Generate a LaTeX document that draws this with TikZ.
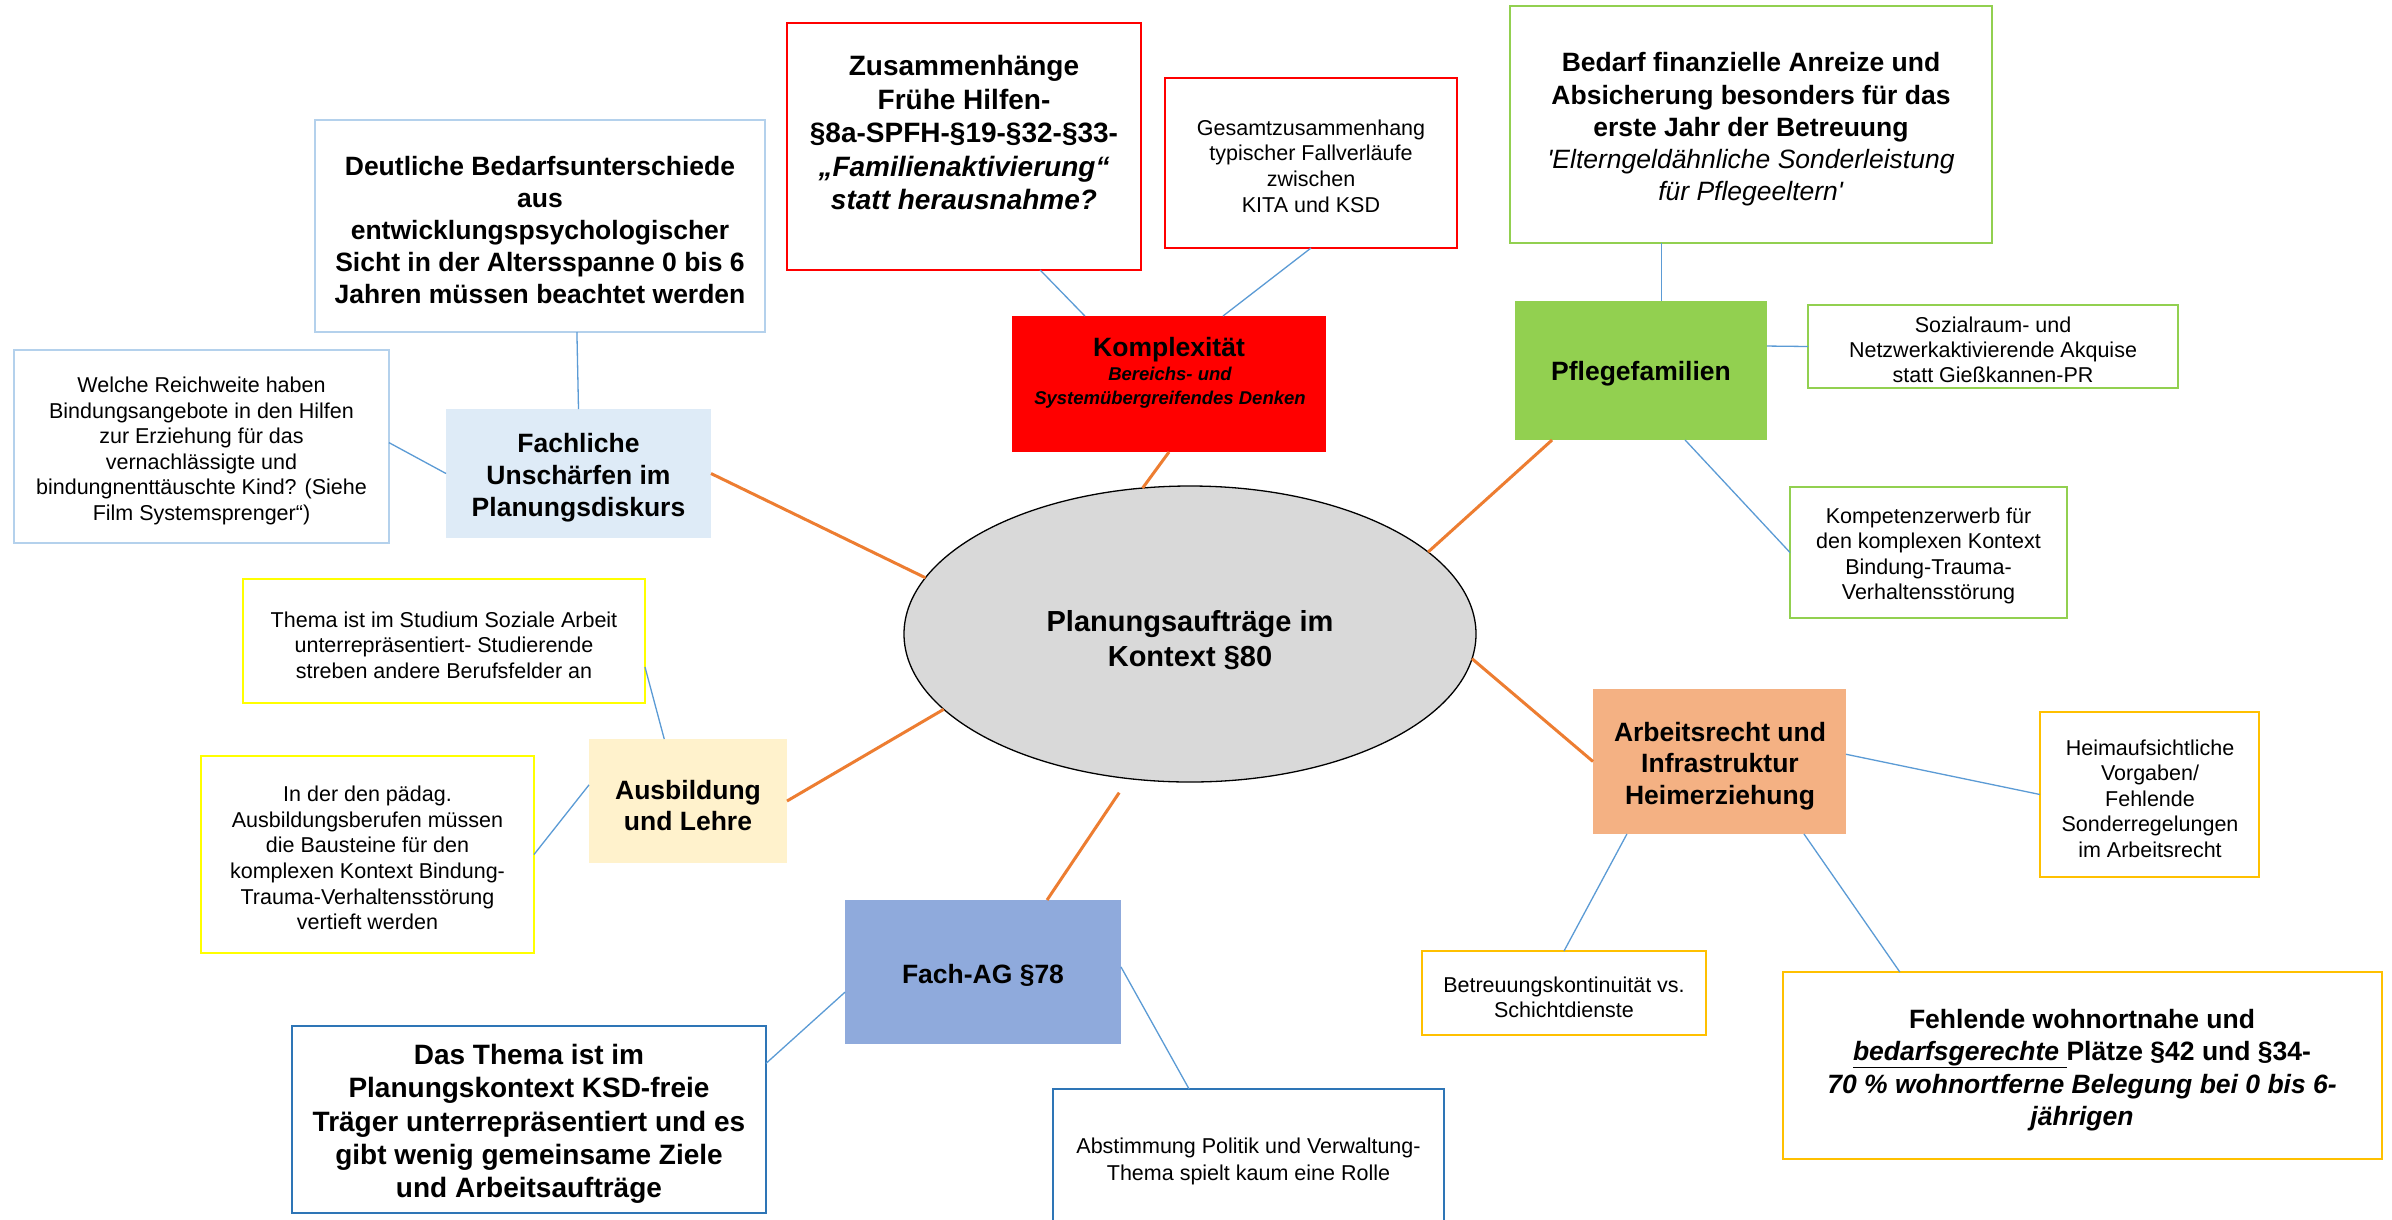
\documentclass[tikz,border=0pt]{standalone}
\usepackage{fontspec}
\setmainfont{Liberation Sans}
\usetikzlibrary{calc,fit,shapes.geometric}
\definecolor{lblue}{HTML}{B4D1EC}
\definecolor{fachfill}{HTML}{DEEBF7}
\definecolor{myred}{HTML}{FF0000}
\definecolor{mygreen}{HTML}{92D050}
\definecolor{myyellow}{HTML}{FFFF00}
\definecolor{cream}{HTML}{FFF2CC}
\definecolor{gold}{HTML}{FFC000}
\definecolor{salmon}{HTML}{F4B183}
\definecolor{fagblue}{HTML}{8FAADC}
\definecolor{dblue}{HTML}{2E75B6}
\definecolor{conblue}{HTML}{5B9BD5}
\definecolor{orng}{HTML}{ED7D31}
\definecolor{ellgray}{HTML}{D9D9D9}
\newcommand\fBig{\fontsize{26.5}{32}\selectfont\bfseries}
\newcommand\fSmall{\fontsize{21.5}{25.6}\selectfont}
\begin{document}
\begin{tikzpicture}[x=1pt,y=-1pt,
  bx/.style={rectangle, inner sep=0pt, outer sep=0pt, line width=2.5pt},
  fl/.style={rectangle, inner sep=0pt, outer sep=0pt},
  txt/.style={inner sep=0pt, outer sep=0pt, align=center, text=black, yshift=-2.5pt},
  thinc/.style={draw=conblue, line width=1.3pt},
  thickc/.style={draw=orng, line width=3pt},
]
\useasboundingbox (0,0) rectangle (2392,1219);
\fill[white] (0,0) rectangle (2392,1219);
\clip (0,0) rectangle (2392,1219);

% boxes
\node[bx, draw=lblue, fit={(315,120) (765,332)}] (deut) {};
\node[bx, draw=lblue, fit={(14,350) (389,543)}] (welche) {};
\node[fl, fill=fachfill, fit={(446,409) (711,538)}] (fach) {};
\node[bx, draw=myred, fit={(787,23) (1141,270)}] (zus) {};
\node[bx, draw=myred, fit={(1165,78) (1457,248)}] (ges) {};
\node[fl, fill=myred, fit={(1012,316) (1326,452)}] (kom) {};
\node[bx, draw=mygreen, fit={(1510,6) (1992,243)}] (bed) {};
\node[fl, fill=mygreen, fit={(1515,301) (1767,440)}] (pfl) {};
\node[bx, draw=mygreen, fit={(1808,305) (2178,388)}] (soz) {};
\node[bx, draw=mygreen, fit={(1790,487) (2067,618)}] (kmp) {};
\node[ellipse, draw=black, line width=1.3pt, fill=ellgray, inner sep=0pt, outer sep=0pt,
      minimum width=572pt, minimum height=296pt] (ell) at (1190,634) {};
\node[bx, draw=myyellow, fit={(243,579) (645,703)}] (thema) {};
\node[bx, draw=myyellow, fit={(201,756) (534,953)}] (inder) {};
\node[fl, fill=cream, fit={(589,739) (787,863)}] (ausb) {};
\node[fl, fill=salmon, fit={(1593,689) (1846,834)}] (arb) {};
\node[bx, draw=gold, fit={(2040,712) (2259,877)}] (heim) {};
\node[bx, draw=gold, fit={(1422,951) (1706,1035)}] (betr) {};
\node[bx, draw=gold, fit={(1783,972) (2382,1159)}] (fehl) {};
\node[fl, fill=fagblue, fit={(845,900) (1121,1044)}] (fag) {};
\node[bx, draw=dblue, fit={(292,1026) (766,1213)}] (dast) {};
\node[bx, draw=dblue, fit={(1053,1089) (1444,1240)}] (abst) {};

% texts
\node[txt, font=\fBig] (deut-t) at (540,227.5) {Deutliche Bedarfsunterschiede\\aus\\entwicklungspsychologischer\\Sicht in der Altersspanne 0 bis 6\\Jahren müssen beachtet werden};
\node[txt, font=\fSmall] (welche-t) at (201.5,448.5) {Welche Reichweite haben\\Bindungsangebote in den Hilfen\\zur Erziehung für das\\vernachlässigte und\\bindungnenttäuschte Kind? (Siehe\\Film Systemsprenger“)};
\node[txt, font=\fBig] (fach-t) at (578.5,475) {Fachliche\\Unschärfen im\\Planungsdiskurs};
\node[txt, font={\fontsize{28}{33.5}\selectfont\bfseries}] (zus-t) at (964,130) {Zusammenhänge\\Frühe Hilfen-\\§8a-SPFH-§19-§32-§33-\\\textit{„Familienaktivierung“}\\\textit{statt herausnahme?}};
\node[txt, font=\fSmall] (ges-t) at (1311,163.5) {Gesamtzusammenhang\\typischer Fallverläufe\\zwischen\\KITA und KSD};
\node[txt, font=\fBig] (kom-t1) at (1169,347) {Komplexität};
\node[txt, font={\fontsize{18.5}{24}\selectfont\bfseries\itshape}] (kom-t2) at (1170,385) {Bereichs- und\\Systemübergreifendes Denken};
\node[txt, font={\fontsize{26.5}{32.3}\selectfont}] (bed-t) at (1751,127) {\textbf{Bedarf finanzielle Anreize und}\\\textbf{Absicherung besonders für das}\\\textbf{erste Jahr der Betreuung}\\\textit{\textquotesingle Elterngeldähnliche Sonderleistung}\\\textit{für Pflegeeltern\textquotesingle}};
\node[txt, font=\fBig] (pfl-t) at (1641,371) {Pflegefamilien};
\node[txt, font={\fontsize{21.5}{25}\selectfont}] (soz-t) at (1993,347) {Sozialraum- und\\Netzwerkaktivierende Akquise\\statt Gießkannen-PR};
\node[txt, font=\fSmall] (kmp-t) at (1928.5,553.5) {Kompetenzerwerb für\\den komplexen Kontext\\Bindung-Trauma-\\Verhaltensstörung};
\node[txt, font={\fontsize{29}{35}\selectfont\bfseries}] (ell-t) at (1190,637.5) {Planungsaufträge im\\Kontext §80};
\node[txt, font=\fSmall] (thema-t) at (444,642.5) {Thema ist im Studium Soziale Arbeit\\unterrepräsentiert- Studierende\\streben andere Berufsfelder an};
\node[txt, font=\fSmall] (inder-t) at (367.5,855.5) {In der den pädag.\\Ausbildungsberufen müssen\\die Bausteine für den\\komplexen Kontext Bindung-\\Trauma-Verhaltensstörung\\vertieft werden};
\node[txt, font={\fontsize{26.5}{31}\selectfont\bfseries}] (ausb-t) at (688,803.5) {Ausbildung\\und Lehre};
\node[txt, font={\fontsize{26.5}{31.5}\selectfont\bfseries}] (arb-t) at (1720,763.5) {Arbeitsrecht und\\Infrastruktur\\Heimerziehung};
\node[txt, font=\fSmall] (heim-t) at (2150,796) {Heimaufsichtliche\\Vorgaben/\\Fehlende\\Sonderregelungen\\im Arbeitsrecht};
\node[txt, font={\fontsize{21.5}{25}\selectfont}] (betr-t) at (1564,994.5) {Betreuungskontinuität vs.\\Schichtdienste};
\node[txt, font={\fontsize{26.5}{32.3}\selectfont\bfseries}] (fehl-t) at (2082,1067.5) {Fehlende wohnortnahe und\\\textit{\underline{bedarfsgerechte }}Plätze §42 und §34-\\\textit{70 \% wohnortferne Belegung bei 0 bis 6-}\\\textit{jährigen}};
\node[txt, font=\fBig] (fag-t) at (983,973) {Fach-AG §78};
\node[txt, font={\fontsize{28}{33.3}\selectfont\bfseries}] (dast-t) at (529,1121.5) {Das Thema ist im\\Planungskontext KSD-freie\\Träger unterrepräsentiert und es\\gibt wenig gemeinsame Ziele\\und Arbeitsaufträge};
\node[txt, font={\fontsize{21.5}{27}\selectfont}] (abst-t) at (1248.5,1158.5) {Abstimmung Politik und Verwaltung-\\Thema spielt kaum eine Rolle};

% thin blue connectors
\draw[thinc] ($(deut.south west)!0.582!(deut.south east)$) -- (fach.north);
\draw[thinc] ($(welche.north east)!0.48!(welche.south east)$) -- (fach.west);
\draw[thinc] ($(zus.south west)!0.715!(zus.south east)$) -- ($(kom.north west)!0.232!(kom.north east)$);
\draw[thinc] (ges.south) -- ($(kom.north west)!0.672!(kom.north east)$);
\path ($(pfl.north west)!0.58!(pfl.north east)$) coordinate (pfltop);
\draw[thinc] (bed.south -| pfltop) -- (pfltop);
\draw[thinc] ($(pfl.north east)!0.324!(pfl.south east)$) -- (soz.west);
\draw[thinc] ($(pfl.south west)!0.675!(pfl.south east)$) -- (kmp.west);
\draw[thinc] ($(thema.north east)!0.71!(thema.south east)$) -- ($(ausb.north west)!0.38!(ausb.north east)$);
\draw[thinc] (inder.east) -- ($(ausb.north west)!0.37!(ausb.south west)$);
\draw[thinc] ($(arb.north east)!0.45!(arb.south east)$) -- (heim.west);
\draw[thinc] ($(arb.south west)!0.134!(arb.south east)$) -- (betr.north);
\draw[thinc] ($(arb.south west)!0.834!(arb.south east)$) -- ($(fehl.north west)!0.195!(fehl.north east)$);
\draw[thinc] ($(fag.north west)!0.64!(fag.south west)$) -- ($(dast.north east)!0.2!(dast.south east)$);
\draw[thinc] ($(fag.north east)!0.465!(fag.south east)$) -- ($(abst.north west)!0.348!(abst.north east)$);

% orange connectors
\draw[thickc] (fach.east) -- (ell.168);
\draw[thickc] (kom.south) -- (ell.108);
\draw[thickc] ($(pfl.south west)!0.147!(pfl.south east)$) -- (ell.19);
\draw[thickc] (arb.west) -- (ell.-5);
\draw[thickc] (ausb.east) -- (ell.197);
\draw[thickc, shorten <=17pt] (ell.-113) -- ($(fag.north west)!0.732!(fag.north east)$);
\end{tikzpicture}
\end{document}
